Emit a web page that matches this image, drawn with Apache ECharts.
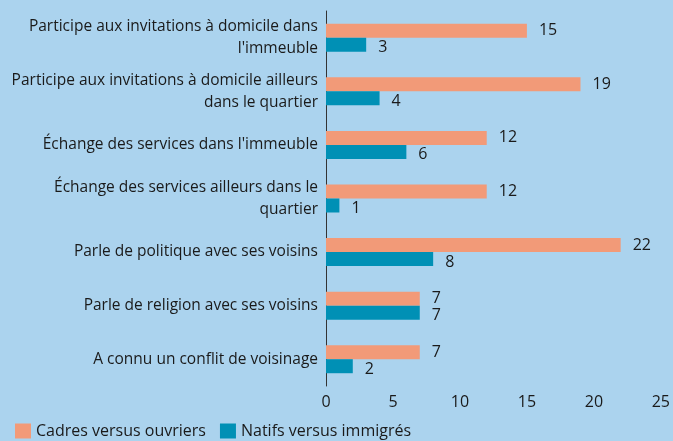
<!DOCTYPE html>
<html>
<head>
<meta charset="utf-8">
<script src="https://cdn.jsdelivr.net/npm/echarts@6/dist/echarts.min.js"></script>
<style>
  html, body { margin: 0; padding: 0; background: #abd3ee; }
  #chart { width: 673px; height: 441px; }
</style>
</head>
<body>
<div id="chart"></div>
<script>
// categories, top to bottom
var categories = [
  "Participe aux invitations à domicile dans\nl'immeuble",
  "Participe aux invitations à domicile ailleurs\ndans le quartier",
  "Échange des services dans l'immeuble",
  "Échange des services ailleurs dans le\nquartier",
  "Parle de politique avec ses voisins",
  "Parle de religion avec ses voisins",
  "A connu un conflit de voisinage"
];
var cadres = [15, 19, 12, 12, 22, 7, 7];
var natifs = [3, 4, 6, 1, 8, 7, 2];
var xTicks = [0, 25, 5]; // min, max, interval

var font = "'Open Sans', sans-serif";
var txt = "#1a1a1a";
var chart = echarts.init(document.getElementById("chart"));

chart.setOption({
  backgroundColor: "#abd3ee",
  animation: false,
  textStyle: { fontFamily: font },
  legend: {
    left: 10,
    bottom: -3,
    icon: "rect",
    itemWidth: 16,
    itemHeight: 15,
    itemGap: 14,
    textStyle: { fontFamily: font, fontSize: 16, color: txt },
    data: ["Cadres versus ouvriers", "Natifs versus immigrés"]
  },
  grid: { left: 326, right: 11, top: 11, bottom: 55 },
  xAxis: {
    type: "value",
    min: xTicks[0],
    max: xTicks[1],
    interval: xTicks[2],
    splitLine: { show: false },
    axisLine: { show: false },
    axisTick: { show: false },
    axisLabel: { fontFamily: font, fontSize: 16, color: txt, margin: 8 }
  },
  yAxis: {
    type: "category",
    inverse: true,
    data: categories,
    axisLine: { show: true, lineStyle: { color: "#333", width: 1 } },
    axisTick: { show: false },
    axisLabel: {
      fontFamily: font, fontSize: 15.5, color: txt, margin: 8,
      lineHeight: 22, align: "right"
    }
  },
  series: [
    {
      name: "Cadres versus ouvriers",
      type: "bar",
      data: cadres,
      barWidth: 14,
      barGap: "0%",
      itemStyle: { color: "#f29a78" },
      label: { show: true, position: "right", distance: 12, fontFamily: font, fontSize: 16, color: txt }
    },
    {
      name: "Natifs versus immigrés",
      type: "bar",
      data: natifs,
      barWidth: 14,
      barGap: "0%",
      itemStyle: { color: "#0090b5" },
      label: { show: true, position: "right", distance: 12, fontFamily: font, fontSize: 16, color: txt, offset: [0, 3] }
    }
  ]
});
</script>
</body>
</html>
